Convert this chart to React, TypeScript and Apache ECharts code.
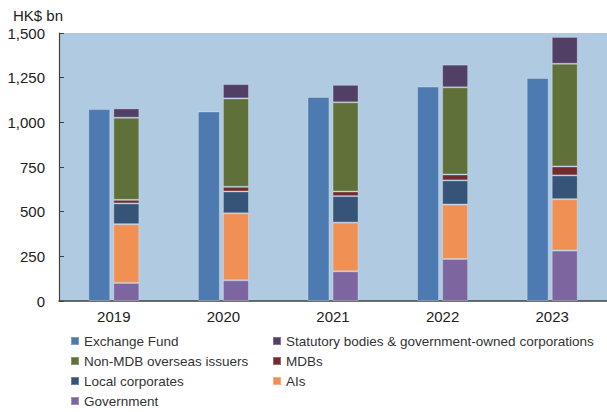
import React, { useEffect, useRef } from "react";
import * as echarts from "echarts";

const years = ["2019", "2020", "2021", "2022", "2023"];
const exchangeFund = [1074, 1061, 1142, 1200, 1248];
const government = [101, 116, 166, 235, 282];
const ais = [329, 375, 273, 305, 288];
const localCorporates = [116, 122, 148, 135, 133];
const mdbs = [20, 26, 26, 33, 50];
const nonMdbOverseas = [460, 495, 499, 488, 575];
const statutoryBodies = [52, 80, 98, 127, 150];
const yTicks = [0, 250, 500, 750, 1000, 1250, 1500];

const FONT = "'Liberation Sans', Arial, sans-serif";

export default function App() {
  const ref = useRef<HTMLDivElement>(null);
  useEffect(() => {
    if (!ref.current) return;
    const chart = echarts.init(ref.current, undefined, { renderer: "svg" });
    const border = { borderColor: "rgba(255,255,255,0.28)", borderWidth: 1 };
    const stackSeries = (name: string, data: number[], color: string) => ({
      name,
      type: "bar",
      stack: "others",
      barWidth: 26,
      data,
      itemStyle: { color, ...border },
    });
    const legendBase = {
      orient: "vertical",
      top: 334,
      height: 90,
      padding: 0,
      itemWidth: 8,
      itemHeight: 8,
      itemGap: 6,
      icon: "rect",
      textStyle: { fontFamily: FONT, fontSize: 13.5, color: "#333", lineHeight: 14 },
    };
    chart.setOption({
      animation: false,
      textStyle: { fontFamily: FONT },
      title: {
        text: "HK$ bn",
        left: 8,
        top: 3,
        textStyle: { fontFamily: FONT, fontSize: 15, fontWeight: "normal", color: "#222" },
      },
      grid: {
        left: 59,
        right: -2,
        top: 33,
        bottom: 111,
        show: true,
        backgroundColor: "#b0cbe1",
        borderWidth: 0,
      },
      legend: [
        {
          ...legendBase,
          left: 70,
          data: ["Exchange Fund", "Non-MDB overseas issuers", "Local corporates", "Government"],
        },
        {
          ...legendBase,
          left: 272,
          data: ["Statutory bodies & government-owned corporations", "MDBs", "AIs"],
        },
      ],
      xAxis: {
        type: "category",
        data: years,
        axisLine: { lineStyle: { color: "#404040", width: 1.5 } },
        axisTick: { inside: true, length: 5, lineStyle: { color: "#404040" } },
        axisLabel: { fontFamily: FONT, fontSize: 15, color: "#222", margin: 8 },
      },
      yAxis: {
        type: "value",
        min: yTicks[0],
        max: yTicks[yTicks.length - 1],
        interval: 250,
        splitLine: { show: false },
        axisLine: { show: true, lineStyle: { color: "#404040", width: 1.2 } },
        axisTick: { show: true, inside: true, length: 5, lineStyle: { color: "#404040" } },
        axisLabel: {
          fontFamily: FONT,
          fontSize: 15,
          color: "#222",
          margin: 14,
          formatter: (v: number) => v.toLocaleString("en-US"),
        },
      },
      series: [
        {
          name: "Exchange Fund",
          type: "bar",
          stack: "ef",
          barWidth: 22,
          barGap: "14%",
          data: exchangeFund,
          itemStyle: { color: "#4d7ab0", ...border },
        },
        stackSeries("Government", government, "#7d66a0"),
        stackSeries("AIs", ais, "#f09055"),
        stackSeries("Local corporates", localCorporates, "#355478"),
        stackSeries("MDBs", mdbs, "#722c2f"),
        stackSeries("Non-MDB overseas issuers", nonMdbOverseas, "#5f7138"),
        stackSeries("Statutory bodies & government-owned corporations", statutoryBodies, "#523f65"),
      ],
    });
    return () => chart.dispose();
  }, []);
  return <div ref={ref} style={{ width: 607, height: 412, position: "absolute", left: 0, top: 0 }} />;
}
